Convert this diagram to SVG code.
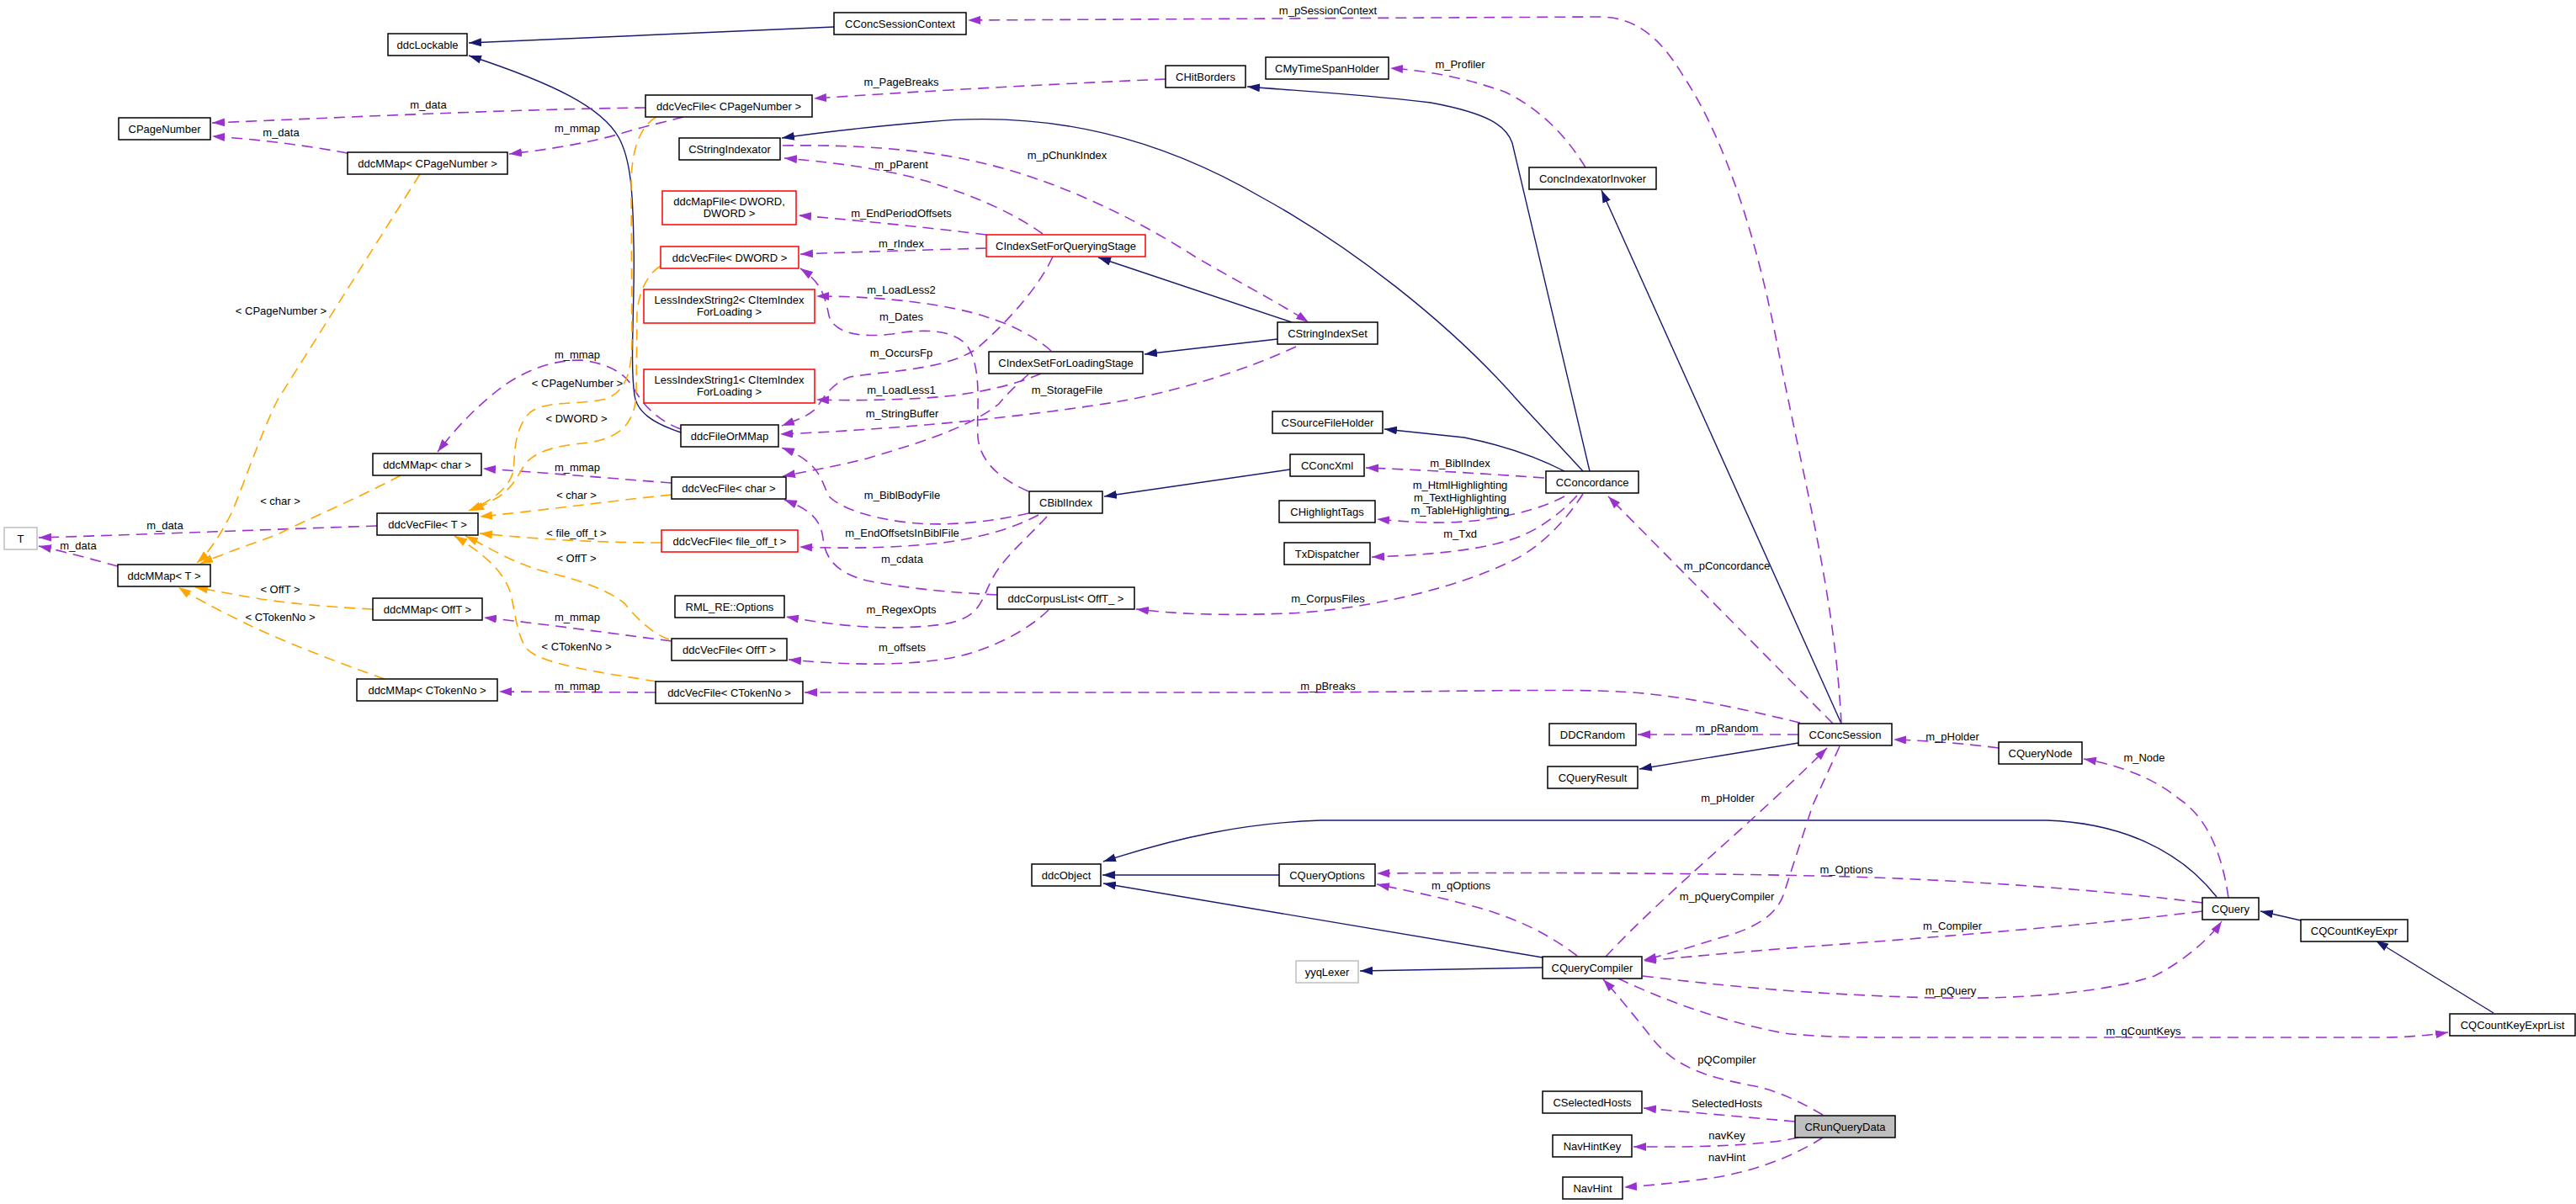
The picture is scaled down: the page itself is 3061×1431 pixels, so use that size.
<svg xmlns="http://www.w3.org/2000/svg" width="3061" height="1431" viewBox="0 0 3061 1431">
<style>
text{font-family:"Liberation Sans",Arial,Helvetica,sans-serif;font-size:13px;fill:#000;text-anchor:middle}
.n rect{fill:#fff;stroke:#000;stroke-width:1.5}
.n.red rect{stroke:#ff0000}
.n.gray rect{stroke:#bfbfbf}
.n.sel rect{fill:#bfbfbf}
.inh{fill:none;stroke:#191970;stroke-width:1.4;marker-end:url(#aN)}
.use{fill:none;stroke:#9a32cd;stroke-width:1.6;stroke-dasharray:13,8;marker-end:url(#aP)}
.tpl{fill:none;stroke:#ffa500;stroke-width:1.6;stroke-dasharray:13,8;marker-end:url(#aO)}
</style>
<defs>
<marker id="aN" viewBox="0 0 15 10" refX="15" refY="5" markerWidth="15" markerHeight="10" markerUnits="userSpaceOnUse" orient="auto"><path d="M0,0L15,5L0,10z" fill="#191970"/></marker>
<marker id="aP" viewBox="0 0 15 10" refX="15" refY="5" markerWidth="15" markerHeight="10" markerUnits="userSpaceOnUse" orient="auto"><path d="M0,0L15,5L0,10z" fill="#9a32cd"/></marker>
<marker id="aO" viewBox="0 0 15 10" refX="15" refY="5" markerWidth="15" markerHeight="10" markerUnits="userSpaceOnUse" orient="auto"><path d="M0,0L15,5L0,10z" fill="#ffa500"/></marker>
</defs>
<rect width="3061" height="1431" fill="#fff"/>
<g id="connectors">
<!-- inheritance -->
<path class="inh" d="M991,32 L557,51"/>
<path class="inh" d="M809,514 C776,503 757,490 754,470 C748,430 755,350 753,290 C752,230 750,190 735,163 C715,128 660,100 557,66"/>
<path class="inh" d="M1889,560 L1797,170 C1790,150 1770,135 1700,122 C1600,110 1540,108 1482,103"/>
<path class="inh" d="M1881,560 L1807,480 C1720,380 1600,290 1500,235 C1380,165 1250,130 1100,145 C1020,152 970,158 929,164"/>
<path class="inh" d="M1859,560 C1820,540 1780,528 1740,520 L1645,510"/>
<path class="inh" d="M1533,558 L1312,590"/>
<path class="inh" d="M1535,383 L1305,306"/>
<path class="inh" d="M1518,403 L1360,421"/>
<path class="inh" d="M2188,860 L1903,226"/>
<path class="inh" d="M2137,883 L1948,914"/>
<path class="inh" d="M2634,1066 C2590,1010 2520,978 2432,975 L1570,975 C1480,978 1400,995 1311,1024"/>
<path class="inh" d="M1520,1040 L1310,1040"/>
<path class="inh" d="M1833,1138 L1311,1050"/>
<path class="inh" d="M1833,1150 L1616,1154"/>
<path class="inh" d="M2734,1094 L2686,1083"/>
<path class="inh" d="M2963,1204 L2823,1118"/>
<!-- usage -->
<path class="use" d="M2188,860 C2180,700 2140,560 2110,400 C2080,250 2040,150 2000,90 C1970,40 1940,20 1900,20 L1150,24"/>
<path class="use" d="M1385,94 C1250,100 1100,108 967,117"/>
<path class="use" d="M767,128 C600,130 400,140 252,146"/>
<path class="use" d="M812,139 C790,145 770,149 740,158 C700,170 650,178 605,183"/>
<path class="use" d="M413,182 C360,172 300,165 252,162"/>
<path class="use" d="M1884,199 C1860,160 1830,130 1790,110 C1750,95 1700,84 1652,81"/>
<path class="use" d="M930,173 C1000,172 1080,175 1150,190 C1250,210 1350,260 1420,305 C1480,340 1520,360 1555,383"/>
<path class="use" d="M1239,278 C1200,250 1150,230 1100,215 C1050,200 980,192 932,188"/>
<path class="use" d="M1172,279 C1100,270 1000,260 949,256"/>
<path class="use" d="M1172,295 C1100,297 1000,300 951,302"/>
<path class="use" d="M1249,417 C1230,400 1200,385 1173,377 C1130,362 1050,352 970,352"/>
<path class="use" d="M1222,584 C1190,570 1165,550 1162,520 C1160,490 1168,440 1150,412 C1135,392 1100,390 1060,397 C1020,402 990,395 985,375 C980,350 975,335 951,319"/>
<path class="use" d="M1251,305 C1235,340 1200,380 1160,415 C1120,440 1060,440 1010,448 C990,455 980,470 970,485 C960,495 945,500 929,506"/>
<path class="use" d="M1237,444 C1200,460 1150,470 1100,473 C1050,476 1000,476 970,475"/>
<path class="use" d="M1222,445 C1205,460 1195,470 1187,480 C1150,510 1080,530 1030,545 C990,555 960,560 930,566"/>
<path class="use" d="M1540,412 C1480,440 1400,465 1325,478 C1250,490 1160,500 1100,505 C1040,510 980,514 927,516"/>
<path class="use" d="M1222,610 C1180,620 1130,625 1090,622 C1040,618 1000,605 985,590 C975,570 975,550 929,532"/>
<path class="use" d="M1234,612 C1200,630 1160,640 1120,645 C1060,652 1000,652 950,650"/>
<path class="use" d="M1185,707 C1140,705 1080,700 1030,690 C990,680 980,660 978,640 C975,615 960,605 932,594"/>
<path class="use" d="M1244,614 C1220,640 1190,665 1178,690 C1165,715 1165,735 1120,742 C1060,750 1000,745 934,733"/>
<path class="use" d="M1246,725 C1220,750 1180,770 1140,780 C1080,793 1000,790 937,784"/>
<path class="use" d="M2139,859 C2060,840 1990,825 1923,822 C1850,818 1700,823 1500,823 L956,823"/>
<path class="use" d="M1881,587 C1860,620 1830,650 1800,665 C1730,700 1620,725 1530,729 C1450,732 1400,730 1350,724"/>
<path class="use" d="M1835,568 C1750,562 1680,558 1623,556"/>
<path class="use" d="M1859,590 C1830,605 1800,612 1760,618 C1710,624 1670,620 1636,617"/>
<path class="use" d="M1874,589 C1850,615 1820,635 1790,643 C1750,655 1690,660 1630,662"/>
<path class="use" d="M2178,860 L1911,590"/>
<path class="use" d="M2137,873 L1946,873"/>
<path class="use" d="M2375,889 C2320,882 2280,880 2250,879"/>
<path class="use" d="M1908,1137 C1980,1060 2080,980 2171,889"/>
<path class="use" d="M2186,887 L2154,957 L2119,1064 C2110,1090 2080,1105 2046,1114 C2010,1125 1980,1135 1953,1141"/>
<path class="use" d="M2648,1067 C2640,1010 2620,970 2590,950 C2560,925 2520,910 2476,902"/>
<path class="use" d="M2617,1073 C2500,1058 2350,1047 2200,1042 C2000,1037 1800,1037 1636,1038"/>
<path class="use" d="M1874,1136 C1840,1110 1800,1090 1750,1077 C1710,1066 1670,1058 1636,1051"/>
<path class="use" d="M2617,1083 C2500,1098 2300,1114 2150,1125 C2060,1132 2000,1138 1953,1142"/>
<path class="use" d="M1952,1160 C2050,1172 2150,1182 2300,1186 C2400,1188 2500,1180 2560,1160 C2600,1140 2630,1110 2640,1095"/>
<path class="use" d="M1923,1163 C1980,1190 2050,1215 2120,1228 C2170,1234 2250,1233 2300,1233 L2830,1233 C2860,1233 2890,1230 2909,1227"/>
<path class="use" d="M2166,1325 C2140,1310 2110,1295 2080,1290 C2030,1280 1990,1270 1960,1230 C1940,1205 1920,1180 1905,1164"/>
<path class="use" d="M2133,1333 L1953,1317"/>
<path class="use" d="M2137,1352 C2100,1360 2050,1362 2000,1363 L1941,1363"/>
<path class="use" d="M2166,1352 C2130,1375 2080,1395 2020,1402 C1990,1406 1960,1409 1930,1411"/>
<path class="use" d="M798,574 C720,568 650,562 574,557"/>
<path class="use" d="M798,762 C720,752 650,742 575,734"/>
<path class="use" d="M779,823 L593,822"/>
<path class="use" d="M448,625 C300,630 150,636 46,639"/>
<path class="use" d="M140,673 C110,665 75,655 46,649"/>
<path class="use" d="M809,510 C790,503 770,490 755,465 C745,445 725,432 690,428 C650,428 615,445 590,465 C565,485 545,505 520,537"/>
<!-- template -->
<path class="tpl" d="M499,207 L330,475 C310,515 290,575 275,610 C262,635 250,655 234,669"/>
<path class="tpl" d="M476,565 C430,590 370,615 330,635 C290,650 260,660 238,670"/>
<path class="tpl" d="M443,724 C400,722 350,718 310,712 C280,707 255,702 232,698"/>
<path class="tpl" d="M457,807 C400,787 330,760 290,740 C260,725 230,710 212,698"/>
<path class="tpl" d="M780,139 C760,150 750,180 750,220 L751,400 C751,440 745,465 720,474 C690,482 650,475 630,490 C610,510 612,540 610,560 C605,580 585,595 557,607"/>
<path class="tpl" d="M785,316 C770,325 760,345 757,370 L756,470 C754,500 740,520 700,526 C660,530 640,535 625,550 C615,565 610,580 590,592 C580,598 570,603 560,607"/>
<path class="tpl" d="M798,588 C720,596 650,606 570,614"/>
<path class="tpl" d="M786,645 C720,645 650,642 570,634"/>
<path class="tpl" d="M795,760 C780,755 760,740 742,717 C720,700 690,690 650,680 C610,670 580,650 553,637"/>
<path class="tpl" d="M780,810 C720,800 640,790 625,770 C612,750 612,720 605,700 C595,675 570,655 540,637"/>
<!-- labels -->
<text x="1578" y="16.5">m_pSessionContext</text>
<text x="1071" y="101.5">m_PageBreaks</text>
<text x="509" y="128.5">m_data</text>
<text x="334" y="161.5">m_data</text>
<text x="686" y="156.5">m_mmap</text>
<text x="1735" y="80.5">m_Profiler</text>
<text x="1268" y="188.5">m_pChunkIndex</text>
<text x="1071" y="199.5">m_pParent</text>
<text x="1071" y="257.5">m_EndPeriodOffsets</text>
<text x="1071" y="293.5">m_rIndex</text>
<text x="1071" y="348.5">m_LoadLess2</text>
<text x="1071" y="380.5">m_Dates</text>
<text x="1071" y="423.5">m_OccursFp</text>
<text x="1071" y="467.5">m_LoadLess1</text>
<text x="1268" y="467.5">m_StorageFile</text>
<text x="1072" y="495.5">m_StringBuffer</text>
<text x="1072" y="592.5">m_BiblBodyFile</text>
<text x="1072" y="637.5">m_EndOffsetsInBiblFile</text>
<text x="1072" y="668.5">m_cdata</text>
<text x="1071" y="728.5">m_RegexOpts</text>
<text x="1072" y="773.5">m_offsets</text>
<text x="334" y="373.5">&lt; CPageNumber &gt;</text>
<text x="686" y="425.5">m_mmap</text>
<text x="686" y="459.5">&lt; CPageNumber &gt;</text>
<text x="685" y="501.5">&lt; DWORD &gt;</text>
<text x="333" y="599.5">&lt; char &gt;</text>
<text x="686" y="559.5">m_mmap</text>
<text x="685" y="592.5">&lt; char &gt;</text>
<text x="196" y="628.5">m_data</text>
<text x="93" y="652.5">m_data</text>
<text x="685" y="637.5">&lt; file_off_t &gt;</text>
<text x="685" y="667.5">&lt; OffT &gt;</text>
<text x="333" y="704.5">&lt; OffT &gt;</text>
<text x="333" y="737.5">&lt; CTokenNo &gt;</text>
<text x="686" y="737.5">m_mmap</text>
<text x="685" y="772.5">&lt; CTokenNo &gt;</text>
<text x="686" y="819.5">m_mmap</text>
<text x="1735" y="554.5">m_BiblIndex</text>
<text x="1735" y="580.5">m_HtmlHighlighting</text>
<text x="1735" y="595.5">m_TextHighlighting</text>
<text x="1735" y="610.5">m_TableHighlighting</text>
<text x="1735" y="638.5">m_Txd</text>
<text x="1578" y="715.5">m_CorpusFiles</text>
<text x="2052" y="676.5">m_pConcordance</text>
<text x="1578" y="819.5">m_pBreaks</text>
<text x="2052" y="869.5">m_pRandom</text>
<text x="2320" y="879.5">m_pHolder</text>
<text x="2053" y="952.5">m_pHolder</text>
<text x="2548" y="904.5">m_Node</text>
<text x="2194" y="1037.5">m_Options</text>
<text x="1736" y="1056.5">m_qOptions</text>
<text x="2052" y="1069.5">m_pQueryCompiler</text>
<text x="2320" y="1104.5">m_Compiler</text>
<text x="2318" y="1181.5">m_pQuery</text>
<text x="2547" y="1229.5">m_qCountKeys</text>
<text x="2052" y="1263.5">pQCompiler</text>
<text x="2052" y="1315.5">SelectedHosts</text>
<text x="2052" y="1353.5">navKey</text>
<text x="2052" y="1379.5">navHint</text>
</g>
<g id="ddcLockable" class="n"><rect x="461" y="40" width="94" height="26"/><text x="508" y="57.5">ddcLockable</text></g>
<g id="CConcSessionContext" class="n"><rect x="991" y="15" width="157" height="26"/><text x="1069.5" y="32.5">CConcSessionContext</text></g>
<g id="CPageNumber" class="n"><rect x="141" y="140" width="109" height="26"/><text x="195.5" y="157.5">CPageNumber</text></g>
<g id="ddcVecFile_CPageNumber" class="n"><rect x="767" y="113" width="198" height="26"/><text x="866" y="130.5">ddcVecFile&lt; CPageNumber &gt;</text></g>
<g id="CHitBorders" class="n"><rect x="1385" y="78" width="95" height="26"/><text x="1432.5" y="95.5">CHitBorders</text></g>
<g id="CMyTimeSpanHolder" class="n"><rect x="1504" y="68" width="146" height="26"/><text x="1577" y="85.5">CMyTimeSpanHolder</text></g>
<g id="ddcMMap_CPageNumber" class="n"><rect x="413" y="181" width="190" height="26"/><text x="508" y="198.5">ddcMMap&lt; CPageNumber &gt;</text></g>
<g id="CStringIndexator" class="n"><rect x="807" y="164" width="120" height="26"/><text x="867" y="181.5">CStringIndexator</text></g>
<g id="ConcIndexatorInvoker" class="n"><rect x="1817" y="199" width="151" height="26"/><text x="1892.5" y="216.5">ConcIndexatorInvoker</text></g>
<g id="ddcMapFile_DWORD_DWORD" class="n red"><rect x="787" y="227" width="159" height="40"/><text x="866.5" y="243.5">ddcMapFile&lt; DWORD,</text><text x="866.5" y="258">DWORD &gt;</text></g>
<g id="CIndexSetForQueryingStage" class="n red"><rect x="1172" y="279" width="189" height="26"/><text x="1266.5" y="296.5">CIndexSetForQueryingStage</text></g>
<g id="ddcVecFile_DWORD" class="n red"><rect x="785" y="293" width="164" height="26"/><text x="867" y="310.5">ddcVecFile&lt; DWORD &gt;</text></g>
<g id="LessIndexString2" class="n red"><rect x="765" y="344" width="203" height="40"/><text x="866.5" y="360.5">LessIndexString2&lt; CItemIndex</text><text x="866.5" y="375">ForLoading &gt;</text></g>
<g id="CStringIndexSet" class="n"><rect x="1518" y="383" width="119" height="26"/><text x="1577.5" y="400.5">CStringIndexSet</text></g>
<g id="CIndexSetForLoadingStage" class="n"><rect x="1175" y="418" width="183" height="26"/><text x="1266.5" y="435.5">CIndexSetForLoadingStage</text></g>
<g id="LessIndexString1" class="n red"><rect x="765" y="439" width="203" height="40"/><text x="866.5" y="455.5">LessIndexString1&lt; CItemIndex</text><text x="866.5" y="470">ForLoading &gt;</text></g>
<g id="ddcFileOrMMap" class="n"><rect x="809" y="505" width="116" height="26"/><text x="867" y="522.5">ddcFileOrMMap</text></g>
<g id="CSourceFileHolder" class="n"><rect x="1512" y="489" width="131" height="26"/><text x="1577.5" y="506.5">CSourceFileHolder</text></g>
<g id="ddcMMap_char" class="n"><rect x="443" y="539" width="129" height="26"/><text x="507.5" y="556.5">ddcMMap&lt; char &gt;</text></g>
<g id="CConcXml" class="n"><rect x="1533" y="540" width="88" height="26"/><text x="1577" y="557.5">CConcXml</text></g>
<g id="CConcordance" class="n"><rect x="1837" y="560" width="110" height="26"/><text x="1892" y="577.5">CConcordance</text></g>
<g id="ddcVecFile_char" class="n"><rect x="798" y="567" width="136" height="26"/><text x="866" y="584.5">ddcVecFile&lt; char &gt;</text></g>
<g id="CBiblIndex" class="n"><rect x="1223" y="584" width="87" height="26"/><text x="1266.5" y="601.5">CBiblIndex</text></g>
<g id="CHighlightTags" class="n"><rect x="1520" y="595" width="114" height="26"/><text x="1577" y="612.5">CHighlightTags</text></g>
<g id="ddcVecFile_T" class="n"><rect x="448" y="610" width="120" height="26"/><text x="508" y="627.5">ddcVecFile&lt; T &gt;</text></g>
<g id="T" class="n gray"><rect x="5" y="627" width="39" height="26"/><text x="24.5" y="644.5">T</text></g>
<g id="ddcVecFile_file_off_t" class="n red"><rect x="786" y="630" width="162" height="26"/><text x="867" y="647.5">ddcVecFile&lt; file_off_t &gt;</text></g>
<g id="TxDispatcher" class="n"><rect x="1526" y="645" width="102" height="26"/><text x="1577" y="662.5">TxDispatcher</text></g>
<g id="ddcMMap_T" class="n"><rect x="140" y="671" width="110" height="26"/><text x="195" y="688.5">ddcMMap&lt; T &gt;</text></g>
<g id="ddcCorpusList_OffT_" class="n"><rect x="1185" y="698" width="163" height="26"/><text x="1266.5" y="715.5">ddcCorpusList&lt; OffT_ &gt;</text></g>
<g id="RML_RE_Options" class="n"><rect x="802" y="708" width="130" height="26"/><text x="867" y="725.5">RML_RE::Options</text></g>
<g id="ddcMMap_OffT" class="n"><rect x="443" y="711" width="130" height="26"/><text x="508" y="728.5">ddcMMap&lt; OffT &gt;</text></g>
<g id="ddcVecFile_OffT" class="n"><rect x="798" y="759" width="137" height="26"/><text x="866.5" y="776.5">ddcVecFile&lt; OffT &gt;</text></g>
<g id="ddcMMap_CTokenNo" class="n"><rect x="424" y="807" width="167" height="26"/><text x="507.5" y="824.5">ddcMMap&lt; CTokenNo &gt;</text></g>
<g id="ddcVecFile_CTokenNo" class="n"><rect x="779" y="810" width="175" height="26"/><text x="866.5" y="827.5">ddcVecFile&lt; CTokenNo &gt;</text></g>
<g id="DDCRandom" class="n"><rect x="1841" y="860" width="103" height="26"/><text x="1892.5" y="877.5">DDCRandom</text></g>
<g id="CConcSession" class="n"><rect x="2137" y="860" width="111" height="26"/><text x="2192.5" y="877.5">CConcSession</text></g>
<g id="CQueryNode" class="n"><rect x="2375" y="882" width="99" height="26"/><text x="2424.5" y="899.5">CQueryNode</text></g>
<g id="CQueryResult" class="n"><rect x="1839" y="911" width="107" height="26"/><text x="1892.5" y="928.5">CQueryResult</text></g>
<g id="ddcObject" class="n"><rect x="1226" y="1027" width="82" height="26"/><text x="1267" y="1044.5">ddcObject</text></g>
<g id="CQueryOptions" class="n"><rect x="1520" y="1027" width="114" height="26"/><text x="1577" y="1044.5">CQueryOptions</text></g>
<g id="CQuery" class="n"><rect x="2617" y="1067" width="67" height="26"/><text x="2650.5" y="1084.5">CQuery</text></g>
<g id="CQCountKeyExpr" class="n"><rect x="2734" y="1093" width="127" height="26"/><text x="2797.5" y="1110.5">CQCountKeyExpr</text></g>
<g id="yyqLexer" class="n gray"><rect x="1540" y="1142" width="74" height="26"/><text x="1577" y="1159.5">yyqLexer</text></g>
<g id="CQueryCompiler" class="n"><rect x="1833" y="1137" width="118" height="26"/><text x="1892" y="1154.5">CQueryCompiler</text></g>
<g id="CQCountKeyExprList" class="n"><rect x="2911" y="1205" width="149" height="26"/><text x="2985.5" y="1222.5">CQCountKeyExprList</text></g>
<g id="CSelectedHosts" class="n"><rect x="1833" y="1297" width="118" height="26"/><text x="1892" y="1314.5">CSelectedHosts</text></g>
<g id="CRunQueryData" class="n sel"><rect x="2133" y="1326" width="119" height="26"/><text x="2192.5" y="1343.5">CRunQueryData</text></g>
<g id="NavHintKey" class="n"><rect x="1845" y="1349" width="94" height="26"/><text x="1892" y="1366.5">NavHintKey</text></g>
<g id="NavHint" class="n"><rect x="1857" y="1399" width="71" height="26"/><text x="1892.5" y="1416.5">NavHint</text></g>
</svg>
